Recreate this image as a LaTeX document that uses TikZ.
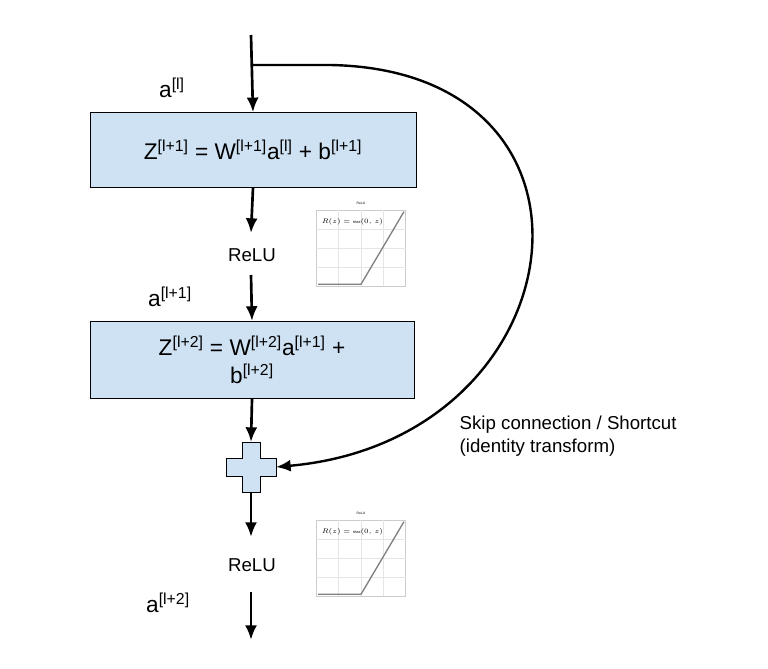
\documentclass[tikz,border=0pt]{standalone}
\usepackage{fontspec}
\setmainfont{Liberation Sans}
\usetikzlibrary{arrows.meta,calc}
\newcommand{\sps}[1]{\textsuperscript{#1}}
\begin{document}
\begin{tikzpicture}[x=0.75pt,y=-0.75pt,
  box/.style={draw=black,line width=0.6pt},
  arr/.style={-{Latex[length=11pt,width=9pt]},line width=2pt},
  big/.style={font=\fontsize{17}{21}\selectfont},
  lbl/.style={font=\fontsize{14}{17}\selectfont},
  plot/.style={draw=gray!40,fill=white}]
\useasboundingbox (0,0) rectangle (768,668);
\definecolor{boxc}{HTML}{CFE2F3}
\node[box,fill=boxc,minimum width=244.5pt,minimum height=56pt,inner sep=0pt,big] (b1) at (253,150) {Z\sps{[l+1]} = W\sps{[l+1]}a\sps{[l]} + b\sps{[l+1]}};
\node[box,fill=boxc,minimum width=243pt,minimum height=58pt,inner sep=0pt,big,align=center] (b2) at (252,360) {Z\sps{[l+2]} = W\sps{[l+2]}a\sps{[l+1]} +\\b\sps{[l+2]}};
\coordinate (top) at (251,35);
\coordinate (bot) at (251,640);
\node[lbl] (r1) at (252,255) {ReLU};
\node[lbl] (r2) at (252,565) {ReLU};
\node[big] (al) at (172,88) {a\sps{[l]}};
\node[big] (al1) at (170,297) {a\sps{[l+1]}};
\node[big] (al2) at (168,603) {a\sps{[l+2]}};
\coordinate (p) at (251,467);
\draw[fill=boxc,line width=0.6pt] ($(p)+(-9,-25)$) -- ++(18,0) -- ++(0,16) -- ++(16,0) -- ++(0,18) -- ++(-16,0) -- ++(0,16) -- ++(-18,0) -- ++(0,-16) -- ++(-16,0) -- ++(0,-18) -- ++(16,0) -- cycle;
\coordinate (pT) at (251,442);
\coordinate (pB) at (251,492);
\coordinate (pR) at (276,467);
\draw[arr] (top) -- (b1.north);
\draw[arr] (b1.south) -- (251,233);
\draw[arr] (251,275) -- (b2.north);
\draw[arr] (b2.south) -- (pT);
\draw[arr] (pB) -- (251,537);
\draw[arr] (251,592) -- (bot);
\coordinate (s) at (251,65);
\draw[arr,line width=1.8pt] (s) -- (330,65) .. controls (630,70) and (580,440) .. (pR);
\node[lbl,align=left,anchor=west] (sk) at (455,436) {Skip connection / Shortcut\\(identity transform)};
\foreach \y [count=\i] in {210,520}{
  \node[plot,minimum width=67pt,minimum height=57pt,inner sep=0pt] (pl\i) at (361,\y+38) {};
  \foreach \g in {0.25,0.5,0.75}{
    \draw[gray!20,line width=0.3pt] ($(pl\i.south west)!\g!(pl\i.south east)$) -- ($(pl\i.north west)!\g!(pl\i.north east)$);
    \draw[gray!20,line width=0.3pt] ($(pl\i.south west)!\g!(pl\i.north west)$) -- ($(pl\i.south east)!\g!(pl\i.north east)$);}
  \draw[gray,line width=1pt] ($(pl\i.south west)+(2,-2)$) -- ($(pl\i.south)+(0,-2)$) -- ($(pl\i.north east)+(-2,2)$);
  \node[font=\fontsize{3}{3}\selectfont,anchor=north west] at ($(pl\i.north west)+(1,4)$) {$R(z)=\max(0,\ z)$};
  \node[font=\fontsize{2.5}{3}\selectfont,anchor=south] at (pl\i.north) {ReLU};
}
\end{tikzpicture}
\end{document}
